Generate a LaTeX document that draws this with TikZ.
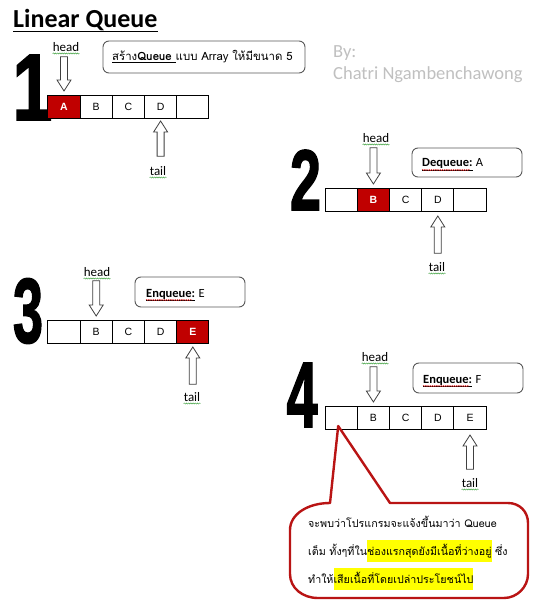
\documentclass[tikz,border=0pt]{standalone}
\usepackage{graphicx}
\usepackage{fontspec}
\setmainfont{Carlito}
\newfontfamily\thai[Script=Thai]{Loma}
\newfontfamily\numfont[FakeBold=2]{Liberation Sans Bold}
\newfontfamily\cellfont{Liberation Sans}
\usetikzlibrary{calc,decorations.pathmorphing}
\definecolor{qred}{RGB}{192,0,0}
\definecolor{bred}{RGB}{185,20,20}
\definecolor{bygrey}{RGB}{192,192,192}
\definecolor{hl}{RGB}{255,255,0}
\definecolor{wgreen}{RGB}{70,165,70}
\definecolor{wred}{RGB}{220,40,40}
\newcommand{\blockv}[3]{\draw[blockarr] let \p1=#1, \p2=#2 in
  ({\x2-3.5pt},{\y1}) -- ({\x2-3.5pt},{\y2+#3*11pt}) -- ({\x2-7pt},{\y2+#3*11pt}) -- (\x2,\y2)
  -- ({\x2+7pt},{\y2+#3*11pt}) -- ({\x2+3.5pt},{\y2+#3*11pt}) -- ({\x2+3.5pt},{\y1}) -- cycle;}
\newcommand{\hlt}[1]{{\setlength{\fboxsep}{0pt}\colorbox{hl}{\rule[-7pt]{0pt}{22pt}#1}}}
\tikzset{
  cell/.style={draw=black, line width=0.9pt, outer sep=0pt, minimum width=32.2pt, minimum height=23pt, inner sep=0pt, font=\cellfont\fontsize{10.5}{12}\selectfont},
  redcell/.style={cell, fill=qred, text=white, font=\cellfont\bfseries\fontsize{10.5}{12}\selectfont},
  lbl/.style={inner sep=0pt, font=\fontsize{13}{15}\selectfont},
  blockarr/.style={draw=black!75, fill=white, line width=0.8pt, line join=miter},
  tbox/.style={draw=black!65, line width=0.9pt, rounded corners=6pt, fill=white, inner sep=0pt},
  boxtxt/.style={anchor=base west, inner sep=0pt, font=\fontsize{12.5}{14}\selectfont},
  wavy/.style={decorate, decoration={snake, amplitude=0.55pt, segment length=2.2pt}, line width=0.5pt},
  bignum/.style={inner sep=0pt},
  callout/.style={draw=bred, line width=2.4pt, fill=white, line join=round},
  thaitxt/.style={anchor=base west, inner sep=0pt, font=\thai\fontsize{10.7}{12}\selectfont}
}
\begin{document}
\begin{tikzpicture}[x=1pt,y=-1pt]
\useasboundingbox[fill=white] (0,0) rectangle (541,612);

% title
\node[anchor=base west, inner sep=0pt, font=\fontsize{26}{30}\selectfont\bfseries] (title) at (13,28) {Linear Queue};
\draw[line width=1.8pt] ([yshift=-3.6pt]title.base west) -- ([yshift=-3.6pt]title.base east);

% author
\node[anchor=base west, inner sep=0pt, text=bygrey, font=\fontsize{18.5}{22}\selectfont] (by1) at (333,58) {By:};
\node[anchor=base west, inner sep=0pt, text=bygrey, font=\fontsize{18.5}{22}\selectfont] (by2) at (333,80) {Chatri Ngambenchawong};

% big numbers
\node[bignum] (n1) at (32.5,87.5) {\resizebox{40pt}{65pt}{\numfont 1}};
\node[bignum] (n2) at (305.5,180) {\resizebox{31pt}{60pt}{\numfont 2}};
\node[bignum] (n3) at (28,311) {\resizebox{30pt}{64pt}{\numfont 3}};
\node[bignum] (n4) at (302,395) {\resizebox{31pt}{64pt}{\numfont 4}};

% ---------- step 1
\node[tbox, minimum width=202pt, minimum height=32pt] (b1) at (204,57) {};
\node[anchor=base west, inner sep=0pt, font=\thai\fontsize{11.4}{13}\selectfont] (b1t) at (112,61) {\underline{สร้าง\textbf{Queue} }แบบ Array ให้มีขนาด 5};
\node[redcell] (q1a) at (64,106.5) {A};
\node[cell, anchor=west] (q1b) at (q1a.east) {B};
\node[cell, anchor=west] (q1c) at (q1b.east) {C};
\node[cell, anchor=west] (q1d) at (q1c.east) {D};
\node[cell, anchor=west] (q1e) at (q1d.east) {};
\node[lbl] (h1) at (66,47) {head};
\node[lbl] (t1) at (158,171) {tail};
\draw[wavy, wgreen] ([yshift=-2pt]h1.base west) -- ([yshift=-2pt]h1.base east);
\draw[wavy, wgreen] ([yshift=-2pt]t1.base west) -- ([yshift=-2pt]t1.base east);
\blockv{($(h1.south)+(0,5)$)}{($(q1a.north)+(0,-4)$)}{1}
\blockv{($(t1.north)+(0,-10)$)}{($(q1d.south)+(0,3)$)}{-1}

% ---------- step 2
\node[tbox, minimum width=110pt, minimum height=29pt] (b2) at (467,162.5) {};
\node[boxtxt] (b2w) at (422,167) {\underline{\textbf{Dequeue:}}};
\node[boxtxt, anchor=base west] (b2a) at ([xshift=3pt]b2w.base east) {A};
\draw[wavy, wred] ([yshift=-3pt]b2w.base west) -- ([yshift=-3pt,xshift=-3pt]b2w.base east);
\node[cell] (q2a) at (341.2,199.5) {};
\node[redcell, anchor=west] (q2b) at (q2a.east) {B};
\node[cell, anchor=west] (q2c) at (q2b.east) {C};
\node[cell, anchor=west] (q2d) at (q2c.east) {D};
\node[cell, anchor=west] (q2e) at (q2d.east) {};
\node[lbl] (h2) at (376,138) {head};
\node[lbl] (t2) at (437,267) {tail};
\draw[wavy, wgreen] ([yshift=-2pt]h2.base west) -- ([yshift=-2pt]h2.base east);
\draw[wavy, wgreen] ([yshift=-2pt]t2.base west) -- ([yshift=-2pt]t2.base east);
\blockv{($(h2.south)+(0,5)$)}{($(q2b.north)+(0,-4)$)}{1}
\blockv{($(t2.north)+(0,-9)$)}{($(q2d.south)+(0,5)$)}{-1}

% ---------- step 3
\node[tbox, minimum width=110pt, minimum height=30pt] (b3) at (190,292) {};
\node[boxtxt] (b3w) at (146,297) {\underline{\textbf{Enqueue:}}};
\node[boxtxt, anchor=base west] (b3a) at ([xshift=3pt]b3w.base east) {E};
\draw[wavy, wred] ([yshift=-3pt]b3w.base west) -- ([yshift=-3pt,xshift=-3pt]b3w.base east);
\node[cell] (q3a) at (64,331.5) {};
\node[cell, anchor=west] (q3b) at (q3a.east) {B};
\node[cell, anchor=west] (q3c) at (q3b.east) {C};
\node[cell, anchor=west] (q3d) at (q3c.east) {D};
\node[redcell, anchor=west] (q3e) at (q3d.east) {E};
\node[lbl] (h3) at (97,272) {head};
\node[lbl] (t3) at (192,397) {tail};
\draw[wavy, wgreen] ([yshift=-2pt]h3.base west) -- ([yshift=-2pt]h3.base east);
\draw[wavy, wgreen] ([yshift=-2pt]t3.base west) -- ([yshift=-2pt]t3.base east);
\blockv{($(h3.south)+(0,4)$)}{($(q3b.north)+(0,-4)$)}{1}
\blockv{($(t3.north)+(0,-8)$)}{($(q3e.south)+(0,4)$)}{-1}

% ---------- step 4
\node[tbox, minimum width=110pt, minimum height=30pt] (b4) at (468,378) {};
\node[boxtxt] (b4w) at (423,383) {\underline{\textbf{Enqueue:}}};
\node[boxtxt, anchor=base west] (b4a) at ([xshift=3pt]b4w.base east) {F};
\draw[wavy, wred] ([yshift=-3pt]b4w.base west) -- ([yshift=-3pt,xshift=-3pt]b4w.base east);
\node[cell] (q4a) at (341.2,417.5) {};
\node[cell, anchor=west] (q4b) at (q4a.east) {B};
\node[cell, anchor=west] (q4c) at (q4b.east) {C};
\node[cell, anchor=west] (q4d) at (q4c.east) {D};
\node[cell, anchor=west] (q4e) at (q4d.east) {E};
\node[lbl] (h4) at (375,357) {head};
\node[lbl] (t4) at (470,483) {tail};
\draw[wavy, wgreen] ([yshift=-2pt]h4.base west) -- ([yshift=-2pt]h4.base east);
\draw[wavy, wgreen] ([yshift=-2pt]t4.base west) -- ([yshift=-2pt]t4.base east);
\blockv{($(h4.south)+(0,5)$)}{($(q4b.north)+(0,-4)$)}{1}
\blockv{($(t4.north)+(0,-9)$)}{($(q4e.south)+(0,6)$)}{-1}

% ---------- callout
\coordinate (ptip) at ($(q4a.south)+(-3,-3)$);
\draw[callout] (ptip) -- (390,503) -- (508,503)
  .. controls (519.5,503) and (528,511.5) .. (528,523) -- (528,574)
  .. controls (528,587) and (517,598) .. (504,598) -- (318,598)
  .. controls (302.5,598) and (290,588) .. (290,574) -- (290,530)
  .. controls (290,514) and (308,503) .. (330,503) -- cycle;
\node[thaitxt] (cl1) at (308,527) {จะพบว่าโปรแกรมจะแจ้งขึ้นมาว่า Queue};
\node[thaitxt] (cl2) at (308,555) {เต็ม ทั้งๆที่ใน\hlt{ช่องแรกสุดยังมีเนื้อที่ว่างอยู่} ซึ่ง};
\node[thaitxt] (cl3) at (308,583) {ทำให้\hlt{เสียเนื้อที่โดยเปล่าประโยชน์ไป}};
\end{tikzpicture}
\end{document}
